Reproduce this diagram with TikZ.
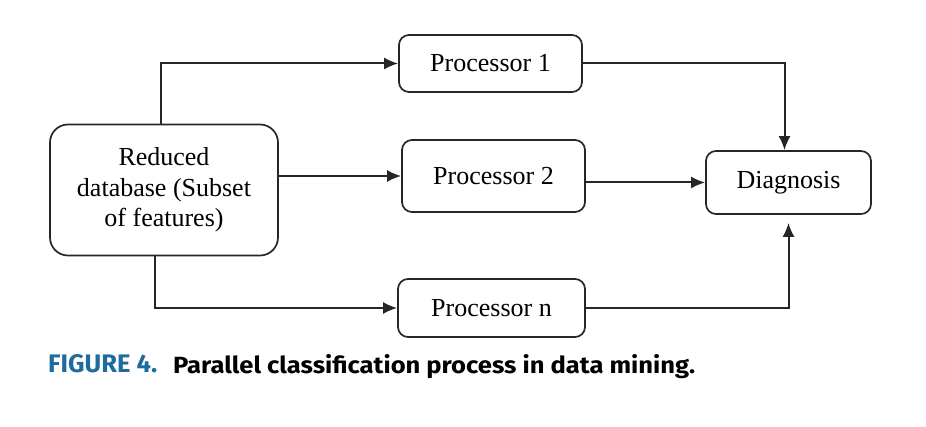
\documentclass[tikz,border=0pt]{standalone}
\usepackage{fontspec}
\usepackage{graphicx}
\setmainfont{Liberation Serif}
\newfontfamily\capfont{Fira Sans}
\usetikzlibrary{arrows.meta}
\definecolor{capblue}{RGB}{30,108,158}
\tikzset{
  box/.style={draw=black!85, line width=1.7pt, rounded corners=10pt, align=center,
    inner sep=0pt, font=\fontsize{26}{30.5}\selectfont},
  flow/.style={draw=black!85, line width=2pt, -{Latex[length=14pt,width=12pt]}}
}
\begin{document}
\begin{tikzpicture}[x=1pt,y=1pt]
\useasboundingbox (0,0) rectangle (926,426);
\node[box, rounded corners=18pt, minimum width=228pt, minimum height=131pt] (red) at (164,236) {Reduced\\database (Subset\\of features)};
\node[box, minimum width=183pt, minimum height=57pt] (p1) at (490.5,362.5) {Processor 1};
\node[box, minimum width=183pt, minimum height=72pt] (p2) at (493.5,250) {Processor 2};
\node[box, minimum width=187pt, minimum height=58pt] (pn) at (491.5,118) {Processor n};
\node[box, minimum width=165pt, minimum height=63pt] (diag) at (788.5,243.5) {Diagnosis};
\draw[flow] ([xshift=-3pt]red.north) |- (p1.west);
\draw[flow] (red.east |- p2.west) -- (p2.west);
\draw[flow] ([xshift=-9pt]red.south) |- (pn.west);
\draw[flow] (p1.east) -| ([xshift=-4pt]diag.north);
\draw[flow] (p2.east |- diag.west) -- (diag.west);
\draw[flow, shorten >=8pt] (pn.east) -| (diag.south);
\node[anchor=base west, inner sep=0pt, text=capblue] (fig) at (48,53)
  {\resizebox{109pt}{18pt}{\capfont\bfseries FIGURE 4.}};
\node[anchor=base west, inner sep=0pt] (cap) at (173,53)
  {\resizebox{522pt}{19pt}{\capfont\bfseries Parallel classification process in data mining.}};
\end{tikzpicture}
\end{document}
